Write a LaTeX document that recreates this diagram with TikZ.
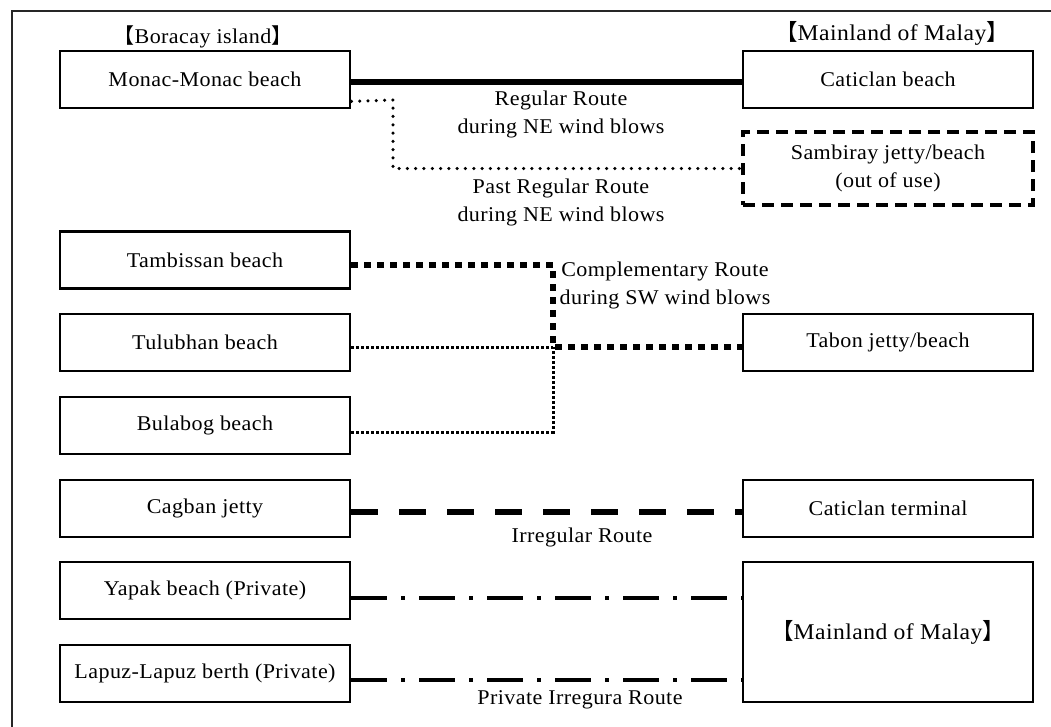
\documentclass[tikz,border=0pt]{standalone}
\usepackage{fontspec}
\setmainfont{Liberation Serif}
\newfontfamily\cjk{Noto Sans CJK JP}
\newfontfamily\lblserif[FakeStretch=1.05, LetterSpace=2]{Liberation Serif}
\usetikzlibrary{positioning}
\newcommand{\openbr}{{\cjk 【}}
\newcommand{\closebr}{{\cjk 】}}
\newcommand{\lblfont}{\lblserif\fontsize{21}{28}\selectfont}
\newcommand{\headfont}{\lblserif\fontsize{22.5}{28}\selectfont}
\tikzset{
    place/.style={draw=black, line width=2.8pt, minimum width=290pt, minimum height=57pt,
        inner sep=0pt, align=center, font=\lblfont},
    oldplace/.style={place, line width=4pt, dash pattern=on 12pt off 7pt, minimum height=73pt},
    routelabel/.style={align=center, font=\lblfont, inner sep=0pt},
    regroute/.style={draw=black, line width=5.5pt},
    pastroute/.style={draw=black, line width=3.5pt, line cap=round, dash pattern=on 0pt off 8.3pt},
    comproute/.style={draw=black, line width=6.5pt, dash pattern=on 6.5pt off 6.5pt},
    subroute/.style={draw=black, line width=3pt, dash pattern=on 3pt off 2pt},
    irrroute/.style={draw=black, line width=5.5pt, dash pattern=on 27pt off 21pt},
    privroute/.style={draw=black, line width=4.5pt, dash pattern=on 36pt off 14pt on 4pt off 14pt},
}
\begin{document}
\begin{tikzpicture}[x=1pt, y=-1pt]
	\useasboundingbox (0,0) rectangle (1051,726);
	\clip (0,0) rectangle (1051,726);
	\draw[line width=1.8pt, black!85] (12,11) rectangle (1070,745);
	% headings
	\node[routelabel] (boracay) at (203,37) {\openbr Boracay island\closebr};
	\node[routelabel, font=\headfont] (mainland) at (892,33) {\openbr Mainland of Malay\closebr};
	% Boracay side
	\node[place] (monac) at (205,79.5) {Monac-Monac beach};
	\node[place] (tamb) at (205,260) {Tambissan beach};
	\node[place] (tulu) at (205,342.5) {Tulubhan beach};
	\node[place] (bula) at (205,425.5) {Bulabog beach};
	\node[place] (cagban) at (205,508.5) {Cagban jetty};
	\node[place] (yapak) at (205,590.5) {Yapak beach (Private)};
	\node[place] (lapuz) at (205,673.5) {Lapuz-Lapuz berth (Private)};
	% mainland side
	\node[place] (caticlan) at (888,79.5) {Caticlan beach};
	\node[oldplace] (samb) at (888,168.5) {Sambiray jetty/beach\\(out of use)};
	\node[place] (tabon) at (888,342.5) {Tabon jetty/beach};
	\node[place] (terminal) at (888,508.5) {Caticlan terminal};
	\node[place, minimum height=140pt, font=\headfont] (malay) at (888,632) {\openbr Mainland of Malay\closebr};
	% routes
	\draw[regroute] ([yshift=-2.5pt]monac.east) -- ([yshift=-2.5pt]monac.east -| caticlan.west);
	\coordinate (pbend) at (393,100);
	\draw[pastroute] ([yshift=8pt]monac.south east) -- (pbend) |- (samb.west);
	\coordinate (jn) at (553,347);
	\draw[subroute] ([yshift=-4.5pt]tulu.east) -- (jn);
	\draw[subroute] ([yshift=-6.5pt]bula.east) -| (jn);
	\draw[comproute] ([yshift=-5pt]tamb.east) -| (jn) -- (jn -| tabon.west);
	\draw[irrroute] ([yshift=-3.5pt]cagban.east) -- ([yshift=-3.5pt]cagban.east -| terminal.west);
	\draw[privroute] ([yshift=-7.5pt]yapak.east) -- ([yshift=-7.5pt]yapak.east -| malay.west);
	\draw[privroute] ([yshift=-6.5pt]lapuz.east) -- ([yshift=-6.5pt]lapuz.east -| malay.west);
	% route labels
	\node[routelabel] (reglbl) at (561,114) {Regular Route\\during NE wind blows};
	\node[routelabel] (pastlbl) at (561,202) {Past Regular Route\\during NE wind blows};
	\node[routelabel] (complbl) at (665,285) {Complementary Route\\during SW wind blows};
	\node[routelabel] (irrlbl) at (582,537) {Irregular Route};
	\node[routelabel] (privlbl) at (580,700) {Private Irregura Route};
\end{tikzpicture}
\end{document}
